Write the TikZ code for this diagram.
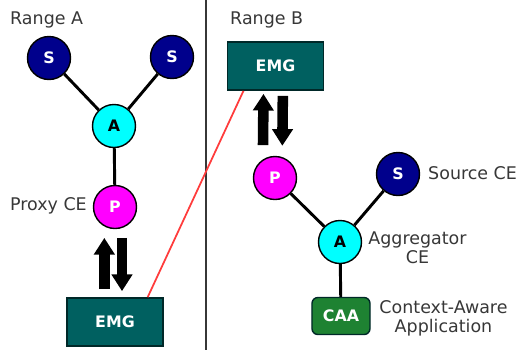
\documentclass[tikz,border=0pt]{standalone}
\usepackage{fontspec}
\setmainfont{DejaVu Sans}
\usetikzlibrary{arrows.meta}
\definecolor{mynavy}{RGB}{0,0,140}
\definecolor{mycyan}{RGB}{0,255,255}
\definecolor{mymagenta}{RGB}{255,0,255}
\definecolor{myteal}{RGB}{0,96,96}
\definecolor{mydarkteal}{RGB}{0,40,40}
\definecolor{mygreen}{RGB}{30,130,50}
\definecolor{mytext}{RGB}{55,55,55}
\definecolor{myred}{RGB}{255,60,60}
\newcommand{\lblfont}{\fontsize{13.5}{16}\selectfont}
\newcommand{\capfont}{\fontsize{14.9}{16.5}\selectfont}
\tikzset{
  cenode/.style={circle, draw=black, line width=1.2pt, minimum size=1.29cm,
    inner sep=0pt, font=\lblfont\bfseries},
  snode/.style={cenode, fill=mynavy, text=white},
  anode/.style={cenode, fill=mycyan, text=black},
  pnode/.style={cenode, fill=mymagenta, text=white},
  emgbox/.style={rectangle, draw=mydarkteal, fill=myteal, line width=1.2pt,
    minimum width=2.88cm, minimum height=1.45cm, font=\lblfont\bfseries, text=white},
  caabox/.style={rectangle, draw=mydarkteal, fill=mygreen, line width=1.2pt,
    rounded corners=5pt, minimum width=1.74cm, minimum height=1.11cm,
    font=\lblfont\bfseries, text=white},
  caption/.style={font=\capfont, text=mytext, align=center, inner sep=0pt},
  link/.style={line width=2.5pt, color=black},
  fatarrow/.style={line width=9pt, color=black,
    -{Triangle[width=0.6cm, length=0.5cm]}}
}

\begin{document}
\begin{tikzpicture}[x=0.03cm, y=-0.03cm]
  \useasboundingbox (0,0) rectangle (518,350);

  % Divider between the ranges
  \draw[line width=1pt, color=mytext] (206,0) -- (206,350);

  % Range A
  \node[caption, anchor=west] (rangeA) at (10,20) {Range A};
  \node[snode] (sA1) at (49,58) {S};
  \node[snode] (sA2) at (172,57) {S};
  \node[anode] (aA) at (114,126) {A};
  \node[pnode] (pA) at (115,207) {P};
  \node[caption, anchor=east] (proxy) at (87,206) {Proxy CE};
  \node[emgbox] (emgA) at (115,322) {EMG};

  % Range B
  \node[caption, anchor=west] (rangeB) at (230,20) {Range B};
  \node[emgbox] (emgB) at (275.5,66) {EMG};
  \node[pnode] (pB) at (275,178) {P};
  \node[snode] (sB) at (398,174) {S};
  \node[caption, anchor=west] (source) at (428,173) {Source CE};
  \node[anode] (aB) at (340,242) {A};
  \node[caption] (aggr) at (417.5,247.5) {Aggregator\\CE};
  \node[caabox] (caa) at (341,316) {CAA};
  \node[caption] (app) at (443.5,318.5) {Context-Aware\\Application};

  % Links inside each range
  \draw[link] (sA1) -- (aA);
  \draw[link] (sA2) -- (aA);
  \draw[link] (aA) -- (pA);
  \draw[link] (pB) -- (aB);
  \draw[link] (sB) -- (aB);
  \draw[link] (aB) -- (caa);

  % Proxy <-> EMG traffic
  \draw[fatarrow] ([xshift=-0.32cm, yshift=0.24cm]emgA.north) -- ([xshift=-0.32cm, yshift=-0.26cm]pA.south);
  \draw[fatarrow] ([xshift=0.21cm, yshift=-0.26cm]pA.south) -- ([xshift=0.21cm, yshift=0.18cm]emgA.north);
  \draw[fatarrow] ([xshift=-0.36cm, yshift=0.32cm]pB.north) -- ([xshift=-0.36cm, yshift=-0.09cm]emgB.south);
  \draw[fatarrow] ([xshift=0.22cm, yshift=-0.15cm]emgB.south) -- ([xshift=0.22cm, yshift=0.3cm]pB.north);

  % EMG to EMG link
  \draw[line width=1.5pt, color=myred] ([xshift=-0.48cm]emgA.north east) -- ([xshift=0.5cm]emgB.south west);
\end{tikzpicture}
\end{document}
